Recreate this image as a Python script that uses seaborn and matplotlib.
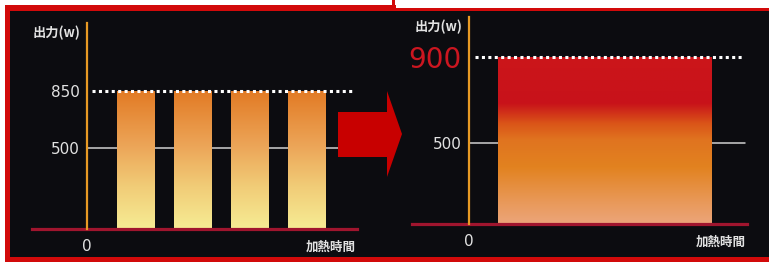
import numpy as np
import matplotlib
matplotlib.use("Agg")
import matplotlib.pyplot as plt
import seaborn as sns
from matplotlib.patches import Rectangle, Polygon
from matplotlib.colors import LinearSegmentedColormap
from matplotlib.transforms import Affine2D

# ---------------- data ----------------
before_pulses = ["1", "2", "3", "4"]
before_watts = [850, 850, 850, 850]
after_pulses = ["連続"]
after_watts = [900]
before_ticks = [500, 850]
after_ticks = [500, 900]
y_label = "出力(w)"
x_label = "加熱時間"
x_zero = "0"

# ---------------- style ----------------
W, H = 769, 262
sns.set_theme(style="white")
plt.rcParams["font.family"] = ["DejaVu Sans", "Noto Sans CJK JP"]
CJK = ["Noto Sans CJK JP", "DejaVu Sans"]
NUM = "DejaVu Sans"
TXT = "#e2e2e2"
ORANGE = "#e89a24"
BASE = "#a0152e"
FRAME = "#d20a0a"
BG = "#0c0c10"

fig = plt.figure(figsize=(W / 100, H / 100), dpi=100, facecolor="white")
px = Affine2D().scale(1 / W, -1 / H).translate(0, 1) + fig.transFigure


def rect(x0, y0, x1, y1, color, z):
    fig.add_artist(Rectangle((x0, y0), x1 - x0, y1 - y0, transform=px,
                             facecolor=color, edgecolor="none", zorder=z))


# frame and background
rect(5, 5, 396, 263, FRAME, -3)
rect(392, 8, 770, 263, FRAME, -3)
rect(392, -1, 395, 9, FRAME, -3)
rect(10, 10.5, 770, 256.5, BG, -2)


def box(l, t, r, b):
    return [l / W, 1 - b / H, (r - l) / W, (b - t) / H]


def fill_gradient(ax, cmap):
    to_axes = ax.transData + ax.transAxes.inverted()
    for patch in list(ax.patches):
        bb = patch.get_bbox()
        (a0, b0), (a1, b1) = to_axes.transform([(bb.x0, bb.y0), (bb.x1, bb.y1)])
        grad = np.linspace(0, 1, 256)[:, None]
        im = ax.imshow(grad, cmap=cmap, origin="lower", extent=(a0, a1, b0, b1),
                       transform=ax.transAxes, aspect="auto",
                       interpolation="bilinear", zorder=2.5)
        im.set_clip_path(patch)
        patch.set_facecolor("none")
        patch.set_edgecolor("none")


def style_axes(ax, spine_x, ticks, cmap):
    ax.set_facecolor("none")
    for s in ("top", "right"):
        ax.spines[s].set_visible(False)
    ax.spines["left"].set_position(("data", spine_x))
    ax.spines["left"].set_color(ORANGE)
    ax.spines["left"].set_linewidth(1.6)
    ax.spines["left"].set_zorder(3)
    ax.spines["bottom"].set_color(BASE)
    ax.spines["bottom"].set_linewidth(2.3)
    ax.set_xlabel("")
    ax.set_ylabel("")
    ax.set_yticks(ticks, [str(t) for t in ticks])
    ax.tick_params(axis="y", length=0, pad=5.2, labelcolor=TXT, labelsize=11,
                   labelfontfamily=NUM)
    ax.set_xticks([spine_x], [x_zero])
    ax.tick_params(axis="x", length=0, pad=7.5, labelcolor=TXT, labelsize=11,
                   labelfontfamily=NUM)
    ax.annotate(y_label, xy=(spine_x, ax.get_ylim()[1]), xycoords="data",
                xytext=(-5, -7.2), textcoords="offset points", ha="right",
                va="center", fontsize=9.5, fontweight="bold", color=TXT,
                family=CJK, annotation_clip=False)
    ax.annotate(x_label, xy=(1, 0), xycoords="axes fraction",
                xytext=(-1.2, -13), textcoords="offset points", ha="right",
                va="center", fontsize=9, fontweight="bold", color=TXT,
                family=CJK, annotation_clip=False)
    fill_gradient(ax, cmap)


# ---------------- left panel (pulse) ----------------
ax1 = fig.add_axes(box(32, 23, 357, 229))
sns.barplot(x=before_pulses, y=before_watts, ax=ax1, width=0.65,
            color=ORANGE, saturation=1, errorbar=None, zorder=2)
X1 = lambda p: (p - 135.5) / 57.0
ax1.set_xlim(X1(32), X1(357))
ax1.set_ylim(0, 1268)
ax1.plot([X1(88), X1(338)], [before_ticks[0]] * 2, lw=1.1, color="#d0d0d0", zorder=1)
ax1.plot([X1(92), X1(352)], [max(before_watts)] * 2, lw=2.2, color="white",
         ls=(0, (1, 1.1)), zorder=4)
cmap1 = LinearSegmentedColormap.from_list(
    "pulse", [(0, "#f6ec94"), (0.3, "#f1cd78"), (0.6, "#eca558"), (1, "#e27a24")])
style_axes(ax1, X1(87), before_ticks, cmap1)

# ---------------- right panel (continuous) ----------------
ax2 = fig.add_axes(box(412, 17, 747, 224))
sns.barplot(x=after_pulses, y=after_watts, ax=ax2, width=0.8,
            color=ORANGE, saturation=1, errorbar=None, zorder=2)
brk = after_ticks[0]
k = 1.327
fwd = lambda v: np.where(v <= brk, v, brk + (v - brk) * k)
inv = lambda u: np.where(u <= brk, u, brk + (u - brk) / k)
ax2.set_yscale("function", functions=(fwd, inv))
X2 = lambda p: (p - 605) / 267.5
ax2.set_xlim(X2(412), X2(747))
ax2.set_ylim(0, 1086)
ax2.plot([X2(469), X2(745)], [after_ticks[0]] * 2, lw=1.1, color="#d0d0d0", zorder=1)
ax2.plot([X2(475), X2(743)], [max(after_watts)] * 2, lw=2.2, color="white",
         ls=(0, (1, 1.1)), zorder=4)
cmap2 = LinearSegmentedColormap.from_list(
    "cont", [(0, "#eca57a"), (0.12, "#e99a5c"), (0.34, "#e2821f"),
             (0.5, "#e07420"), (0.6, "#da5418"), (0.72, "#c8121a"), (1, "#cc161a")])
style_axes(ax2, X2(469), after_ticks, cmap2)
lab900 = ax2.yaxis.get_major_ticks()[1].label1
lab900.set_color("#cc1620")
lab900.set_fontsize(20)

# ---------------- arrow ----------------
fig.add_artist(Polygon([(338, 112), (387, 112), (387, 91), (402, 134),
                        (387, 177), (387, 157), (338, 157)], closed=True,
                       transform=px, facecolor="#c80000", edgecolor="none", zorder=5))

fig.savefig("out.png", dpi=100, facecolor="white")
